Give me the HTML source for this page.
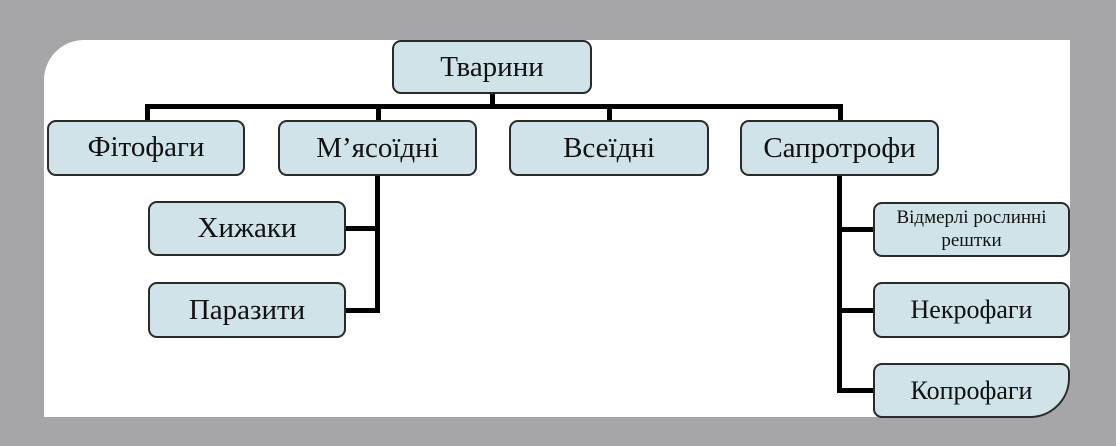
<!DOCTYPE html>
<html><head><meta charset="utf-8"><style>
body{margin:0;width:1116px;height:446px;background:#a6a6a8;position:relative;overflow:hidden;font-family:"Liberation Serif",serif}
.panel{position:absolute;left:44px;top:40px;width:1026px;height:377px;background:#fff;border-radius:40px 0 40px 0}
.b{position:absolute;background:#cfe3e8;border:2px solid #2a2a2a;border-radius:9px;box-sizing:border-box;display:flex;align-items:center;justify-content:center;text-align:center;font-size:29px;color:#111;line-height:1}
.l{position:absolute;background:#000}
</style></head><body>
<div class="panel"></div>
<div class="l" style="left:146px;top:104px;width:696px;height:5px"></div>
<div class="l" style="left:490px;top:92px;width:5px;height:14px"></div>
<div class="l" style="left:145px;top:104px;width:5px;height:18px"></div>
<div class="l" style="left:376px;top:104px;width:5px;height:18px"></div>
<div class="l" style="left:607px;top:104px;width:5px;height:18px"></div>
<div class="l" style="left:838px;top:104px;width:5px;height:18px"></div>
<div class="l" style="left:375px;top:174px;width:5px;height:139px"></div>
<div class="l" style="left:344px;top:226px;width:34px;height:5px"></div>
<div class="l" style="left:344px;top:308px;width:34px;height:5px"></div>
<div class="l" style="left:837px;top:174px;width:5px;height:219px"></div>
<div class="l" style="left:840px;top:227px;width:35px;height:5px"></div>
<div class="l" style="left:840px;top:308px;width:35px;height:5px"></div>
<div class="l" style="left:840px;top:388px;width:35px;height:5px"></div>
<div class="b" style="left:392px;top:40px;width:200px;height:54px">Тварини</div>
<div class="b" style="left:47px;top:120px;width:198px;height:56px;align-items:flex-start;padding-top:11px">Фітофаги</div>
<div class="b" style="left:278px;top:120px;width:199px;height:56px">М’ясоїдні</div>
<div class="b" style="left:509px;top:120px;width:200px;height:56px">Всеїдні</div>
<div class="b" style="left:740px;top:120px;width:199px;height:56px">Сапротрофи</div>
<div class="b" style="left:148px;top:201px;width:198px;height:55px">Хижаки</div>
<div class="b" style="left:148px;top:282px;width:198px;height:56px">Паразити</div>
<div class="b" style="left:873px;top:202px;width:197px;height:55px;font-size:19px;line-height:1.2">Відмерлі рослинні<br>рештки</div>
<div class="b" style="left:873px;top:282px;width:197px;height:56px;font-size:26px">Некрофаги</div>
<div class="b" style="left:873px;top:363px;width:197px;height:55px;font-size:26px;border-radius:9px 9px 40px 9px">Копрофаги</div>
</body></html>
